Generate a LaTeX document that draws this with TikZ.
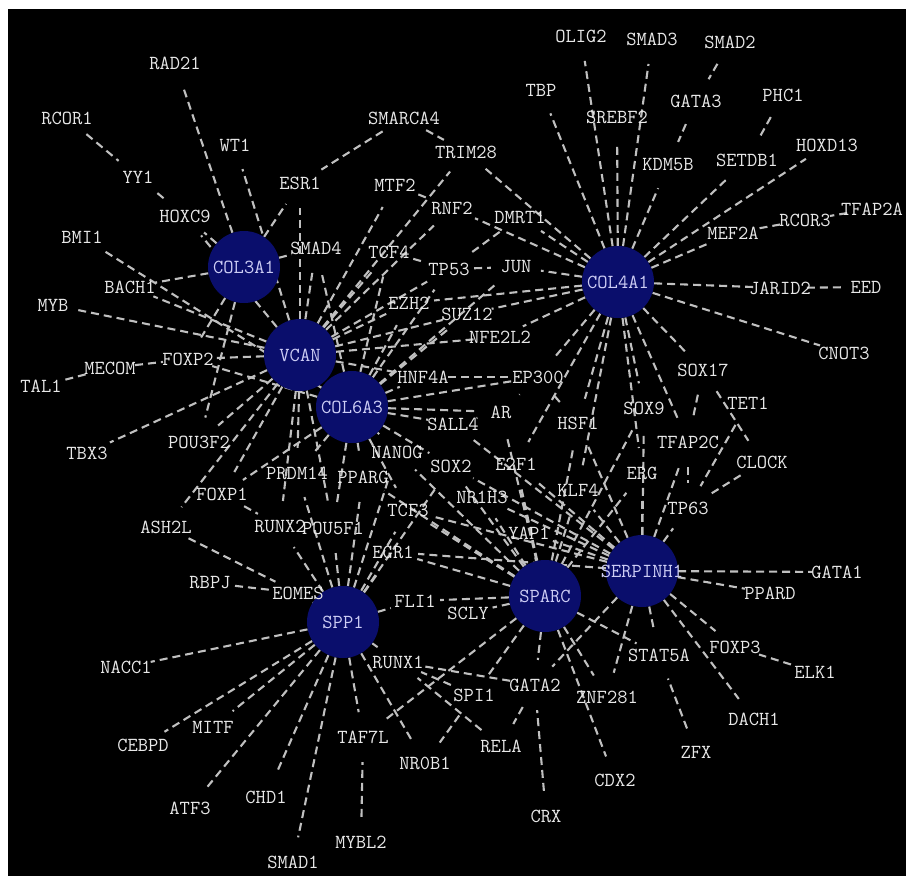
\documentclass[tikz,border=0pt]{standalone}
\usepackage{tikz}
\usetikzlibrary{backgrounds}

\definecolor{hubblue}{RGB}{10,14,108}
\definecolor{hubtext}{RGB}{205,205,245}
\definecolor{tfgray}{RGB}{232,232,232}
\definecolor{linkgray}{RGB}{192,192,192}
\newcommand\tffont{\ttfamily\fontsize{20}{20}\selectfont}

\tikzset{
  hub/.style={circle,fill=hubblue,minimum size=72bp,inner sep=0pt,
    label={[text=hubtext,font=\tffont]center:#1}},
  tf/.style={circle,minimum size=50bp,inner sep=0pt,
    label={[text=tfgray,font=\tffont]center:#1}},
  link/.style={draw=linkgray,line width=2.1bp,dash pattern=on 8bp off 5bp}
}

\begin{document}
\begin{tikzpicture}[x=1bp,y=-1bp]
\useasboundingbox (0,0) rectangle (906,876);
% hub genes
\node[hub=COL3A1] (COL3A1) at (244,267) {};
\node[hub=VCAN] (VCAN) at (300,355) {};
\node[hub=COL6A3] (COL6A3) at (352,407) {};
\node[hub=COL4A1] (COL4A1) at (618,282) {};
\node[hub=SPARC] (SPARC) at (545,596) {};
\node[hub=SERPINH1] (SERPINH1) at (642,571) {};
\node[hub=SPP1] (SPP1) at (343,622) {};
% transcription factors, top left
\node[tf=RAD21] (RAD21) at (175,63) {};
\node[tf=RCOR1] (RCOR1) at (67,118) {};
\node[tf=WT1] (WT1) at (235,145) {};
\node[tf=YY1] (YY1) at (138,177) {};
\node[tf=ESR1] (ESR1) at (300,183) {};
\node[tf=HOXC9] (HOXC9) at (185,216) {};
\node[tf=BMI1] (BMI1) at (82,237) {};
\node[tf=BACH1] (BACH1) at (130,287) {};
\node[tf=MYB] (MYB) at (53,305) {};
\node[tf=MECOM] (MECOM) at (110,368) {};
\node[tf=TAL1] (TAL1) at (41,386) {};
\node[tf=FOXP2] (FOXP2) at (188,359) {};
\node[tf=TBX3] (TBX3) at (87,453) {};
\node[tf=POU3F2] (POU3F2) at (199,442) {};
\node[tf=FOXP1] (FOXP1) at (222,494) {};
\node[tf=ASH2L] (ASH2L) at (166,527) {};
\node[tf=PRDM14] (PRDM14) at (297,473) {};
\node[tf=RUNX2] (RUNX2) at (280,526) {};
\node[tf=RBPJ] (RBPJ) at (210,583) {};
\node[tf=EOMES] (EOMES) at (298,593) {};
% bottom
\node[tf=NACC1] (NACC1) at (126,667) {};
\node[tf=MITF] (MITF) at (213,727) {};
\node[tf=CEBPD] (CEBPD) at (143,745) {};
\node[tf=ATF3] (ATF3) at (190,808) {};
\node[tf=CHD1] (CHD1) at (266,797) {};
\node[tf=SMAD1] (SMAD1) at (293,862) {};
\node[tf=MYBL2] (MYBL2) at (361,842) {};
\node[tf=TAF7L] (TAF7L) at (363,737) {};
\node[tf=NR0B1] (NR0B1) at (425,763) {};
\node[tf=RUNX1] (RUNX1) at (398,662) {};
\node[tf=SPI1] (SPI1) at (474,695) {};
\node[tf=RELA] (RELA) at (501,746) {};
\node[tf=GATA2] (GATA2) at (535,685) {};
\node[tf=CRX] (CRX) at (546,816) {};
\node[tf=ZNF281] (ZNF281) at (607,697) {};
\node[tf=CDX2] (CDX2) at (615,780) {};
\node[tf=STAT5A] (STAT5A) at (659,655) {};
\node[tf=ZFX] (ZFX) at (696,752) {};
\node[tf=DACH1] (DACH1) at (754,719) {};
\node[tf=FOXP3] (FOXP3) at (735,647) {};
\node[tf=ELK1] (ELK1) at (815,672) {};
\node[tf=PPARD] (PPARD) at (770,593) {};
\node[tf=GATA1] (GATA1) at (837,572) {};
% right middle
\node[tf=TP63] (TP63) at (688,508) {};
\node[tf=CLOCK] (CLOCK) at (762,462) {};
\node[tf=TFAP2C] (TFAP2C) at (688,442) {};
\node[tf=TET1] (TET1) at (748,403) {};
\node[tf=SOX9] (SOX9) at (644,408) {};
\node[tf=SOX17] (SOX17) at (703,370) {};
\node[tf=ERG] (ERG) at (642,473) {};
% centre
\node[tf=KLF4] (KLF4) at (578,490) {};
\node[tf=YAP1] (YAP1) at (529,533) {};
\node[tf=NR1H3] (NR1H3) at (482,497) {};
\node[tf=E2F1] (E2F1) at (516,464) {};
\node[tf=SOX2] (SOX2) at (451,466) {};
\node[tf=NANOG] (NANOG) at (397,452) {};
\node[tf=PPARG] (PPARG) at (363,477) {};
\node[tf=TCF3] (TCF3) at (408,510) {};
\node[tf=POU5F1] (POU5F1) at (333,528) {};
\node[tf=EGR1] (EGR1) at (393,552) {};
\node[tf=FLI1] (FLI1) at (415,601) {};
\node[tf=SCLY] (SCLY) at (468,613) {};
\node[tf=HSF1] (HSF1) at (578,423) {};
\node[tf=AR] (AR) at (501,412) {};
\node[tf=SALL4] (SALL4) at (453,424) {};
\node[tf=EP300] (EP300) at (538,377) {};
\node[tf=HNF4A] (HNF4A) at (423,377) {};
\node[tf=NFE2L2] (NFE2L2) at (500,337) {};
\node[tf=SUZ12] (SUZ12) at (467,314) {};
\node[tf=EZH2] (EZH2) at (409,303) {};
\node[tf=TP53] (TP53) at (449,269) {};
\node[tf=JUN] (JUN) at (516,267) {};
\node[tf=TCF4] (TCF4) at (389,252) {};
\node[tf=SMAD4] (SMAD4) at (316,248) {};
\node[tf=MTF2] (MTF2) at (395,185) {};
\node[tf=RNF2] (RNF2) at (452,208) {};
\node[tf=DMRT1] (DMRT1) at (520,217) {};
\node[tf=TRIM28] (TRIM28) at (466,152) {};
\node[tf=SMARCA4] (SMARCA4) at (404,118) {};
% top right
\node[tf=TBP] (TBP) at (541,90) {};
\node[tf=OLIG2] (OLIG2) at (581,36) {};
\node[tf=SREBF2] (SREBF2) at (617,117) {};
\node[tf=SMAD3] (SMAD3) at (652,39) {};
\node[tf=SMAD2] (SMAD2) at (730,42) {};
\node[tf=GATA3] (GATA3) at (696,101) {};
\node[tf=KDM5B] (KDM5B) at (668,165) {};
\node[tf=PHC1] (PHC1) at (783,95) {};
\node[tf=SETDB1] (SETDB1) at (747,160) {};
\node[tf=HOXD13] (HOXD13) at (827,145) {};
\node[tf=MEF2A] (MEF2A) at (733,233) {};
\node[tf=RCOR3] (RCOR3) at (805,220) {};
\node[tf=TFAP2A] (TFAP2A) at (872,209) {};
\node[tf=JARID2] (JARID2) at (780,288) {};
\node[tf=EED] (EED) at (866,287) {};
\node[tf=CNOT3] (CNOT3) at (844,353) {};

\begin{scope}[on background layer,every edge/.append style={link}]
\fill[white] (0,0) rectangle (906,876);
\fill[black] (8,9) rectangle (906,876);
% hub links
\path (COL3A1) edge (RAD21) edge (HOXC9) edge (ESR1) edge (BACH1) edge (SMAD4)
  edge (POU3F2) edge (FOXP2);
\path (VCAN) edge (WT1) edge (HOXC9) edge (MTF2) edge (TRIM28) edge (RNF2)
  edge (TCF4) edge (SMAD4) edge (ESR1) edge (EZH2) edge (SUZ12) edge (NFE2L2)
  edge (HNF4A) edge (BACH1) edge (MYB) edge (FOXP2) edge (TBX3) edge (POU3F2)
  edge (ASH2L) edge (FOXP1) edge (PRDM14) edge (RUNX2) edge (POU5F1) edge (TP53);
\path (COL6A3) edge (BMI1) edge (FOXP2) edge (SMAD4) edge (TCF4) edge (TP53)
  edge (JUN) edge (EZH2) edge (SUZ12) edge (HNF4A) edge (SALL4) edge (AR)
  edge (EP300) edge (NANOG) edge (PPARG) edge (PRDM14) edge (POU5F1)
  edge (FOXP1) edge (SOX2) edge (TCF3);
\path (COL4A1) edge (OLIG2) edge (TBP) edge (SREBF2) edge (SMAD3) edge (KDM5B)
  edge (SETDB1) edge (HOXD13) edge (MEF2A) edge (JARID2) edge (CNOT3)
  edge (SOX17) edge (TFAP2C) edge (SOX9) edge (E2F1) edge (KLF4) edge (ERG)
  edge (HSF1) edge (EP300) edge (NFE2L2) edge (SUZ12) edge (EZH2) edge (JUN)
  edge (RNF2) edge (DMRT1) edge (TRIM28);
\path (SPARC) edge (NANOG) edge (SOX2) edge (E2F1) edge (NR1H3) edge (KLF4)
  edge (YAP1) edge (TCF3) edge (EGR1) edge (PPARG) edge (SCLY) edge (FLI1)
  edge (TAF7L) edge (GATA2) edge (ZNF281) edge (CDX2) edge (STAT5A)
  edge (SOX9) edge (ERG) edge (HSF1) edge (AR) edge (SPI1);
\path (SERPINH1) edge (GATA1) edge (PPARD) edge (FOXP3) edge (DACH1)
  edge (STAT5A) edge (ZNF281) edge (TP63) edge (TFAP2C) edge (ERG) edge (SOX9)
  edge (KLF4) edge (YAP1) edge (E2F1) edge (NR1H3) edge (SOX2) edge (EGR1)
  edge (TCF3) edge (HSF1) edge (SALL4) edge (GATA2);
\path (SPP1) edge (NACC1) edge (CEBPD) edge (MITF) edge (ATF3) edge (CHD1)
  edge (SMAD1) edge (EOMES) edge (RUNX2) edge (TAF7L) edge (NR0B1)
  edge (RUNX1) edge (FLI1) edge (EGR1) edge (TCF3) edge (POU5F1) edge (PPARG)
  edge (PRDM14) edge (NANOG) edge (SOX2);
% factor to factor links
\path (RCOR1) edge (YY1) (YY1) edge (HOXC9) (SMARCA4) edge (ESR1)
  edge (TRIM28) (MTF2) edge (RNF2) (DMRT1) edge (TP53) (TCF4) edge (TP53)
  (TP53) edge (JUN) (HNF4A) edge (EP300) (EP300) edge (HSF1) edge (AR)
  (SALL4) edge (AR) (TAL1) edge (MECOM) (MECOM) edge (FOXP2) (FOXP1) edge (RUNX2)
  (RBPJ) edge (EOMES) (ASH2L) edge (EOMES);
\path (SMAD2) edge (GATA3) (GATA3) edge (KDM5B) (PHC1) edge (SETDB1)
  (TFAP2A) edge (RCOR3) (RCOR3) edge (MEF2A) (EED) edge (JARID2)
  (SOX17) edge (TFAP2C) edge (CLOCK) (TET1) edge (TP63) (CLOCK) edge (TP63)
  (TFAP2C) edge (TP63) (ELK1) edge (FOXP3) (ZFX) edge (STAT5A);
\path (CRX) edge (GATA2) (GATA2) edge (RELA) edge (RUNX1) (RELA) edge (RUNX1)
  (SPI1) edge (NR0B1) edge (RUNX1) (MYBL2) edge (TAF7L);
\end{scope}
\end{tikzpicture}
\end{document}
